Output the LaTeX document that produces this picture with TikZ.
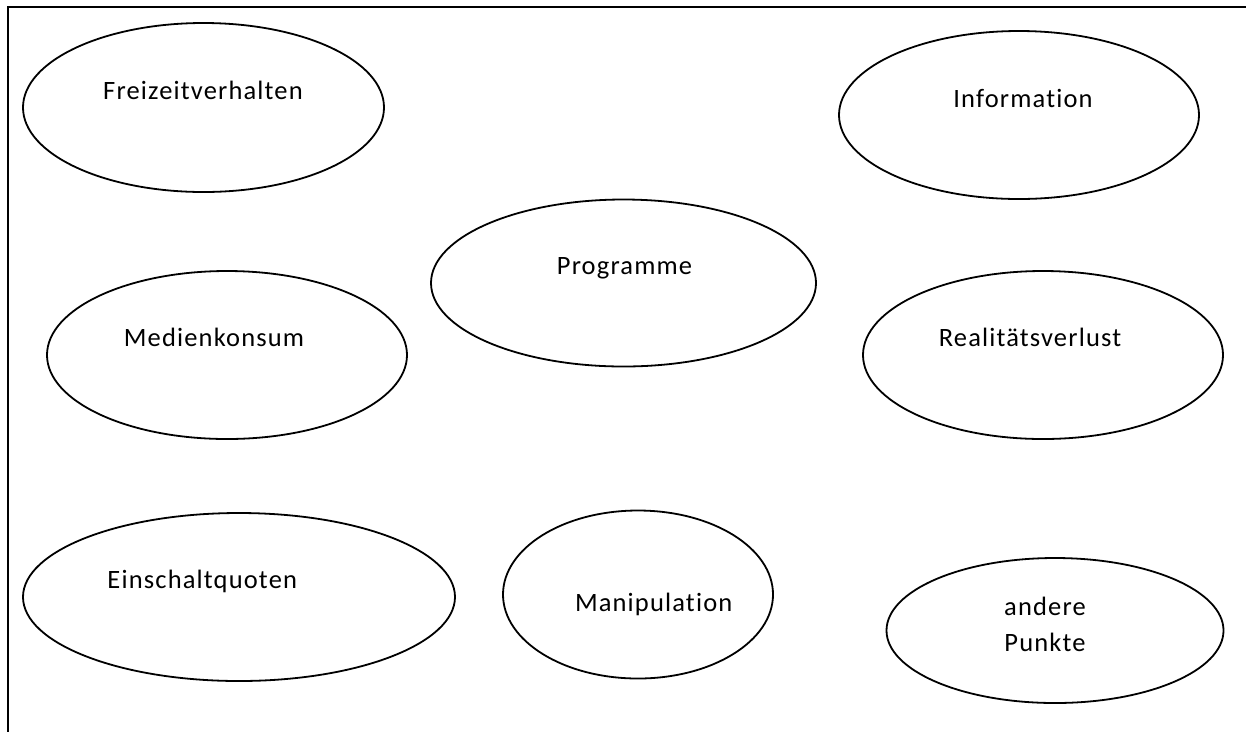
\documentclass[tikz,border=0pt]{standalone}
\usepackage{fontspec}
\setmainfont{Carlito}[LetterSpace=4.4,Ligatures=NoCommon]
\usetikzlibrary{shapes.geometric}
\begin{document}
\begin{tikzpicture}[x=1pt,y=-1pt,
  ell/.style={draw=black, line width=1.8pt, ellipse, inner sep=0pt},
  lbl/.style={anchor=base, inner sep=0pt, font=\fontsize{26.5}{36}\selectfont, text=black},
  frame/.style={draw=black, line width=2pt}]
\useasboundingbox (0,0) rectangle (1246,732);
\coordinate (ftl) at (8,6.5);
\coordinate (ftr) at (1246,6.5);
\coordinate (fbl) at (8,732);
\draw[frame] (ftr) -- (ftl) -- (fbl);
% ellipses
\node[ell, minimum width=361pt, minimum height=169pt] (e1) at (203.5,107.5) {};
\node[ell, minimum width=360pt, minimum height=168pt] (e2) at (1019,115) {};
\node[ell, minimum width=385pt, minimum height=167pt] (e3) at (623.5,283) {};
\node[ell, minimum width=360pt, minimum height=168pt] (e4) at (227,355) {};
\node[ell, minimum width=360pt, minimum height=168pt] (e5) at (1043,355) {};
\node[ell, minimum width=432pt, minimum height=168pt] (e6) at (239,597) {};
\node[ell, minimum width=270pt, minimum height=168pt] (e7) at (638,594.5) {};
\node[ell, minimum width=337pt, minimum height=145pt] (e8) at (1055,630.5) {};
% labels
\node[lbl] (t1) at (203,99.5) {Freizeitverhalten};
\node[lbl] (t2) at (1023,107.3) {Information};
\node[lbl] (t3) at (624.5,274) {Programme};
\node[lbl] (t4) at (214,346.7) {Medienkonsum};
\node[lbl] (t5) at (1030,346.7) {Realitätsverlust};
\node[lbl] (t6) at (202.3,588.7) {Einschaltquoten};
\node[lbl] (t7) at (653.7,611.7) {Manipulation};
\node[lbl] (t8a) at (1045,615.3) {andere};
\node[lbl] (t8b) at (1045,651.3) {Punkte};
\end{tikzpicture}
\end{document}
